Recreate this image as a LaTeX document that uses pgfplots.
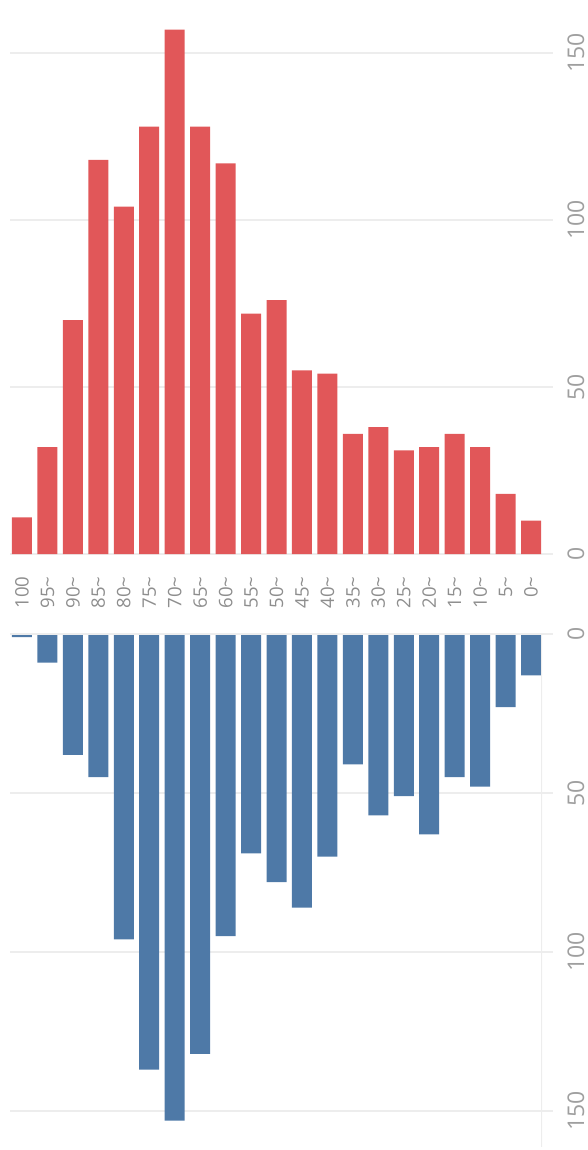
\documentclass[border=0pt]{standalone}
\usepackage{fontspec}
\setmainfont{Open Sans}
\usepackage{pgfplots}
\usepackage{pgfplotstable}
\pgfplotsset{compat=1.18}

\definecolor{redbar}{HTML}{E15759}
\definecolor{bluebar}{HTML}{4E79A7}
\definecolor{gridc}{HTML}{EDEDED}
\definecolor{labc}{HTML}{8E8E8E}

% x = age group index (100, 95~, ..., 0~)
\pgfplotstableread{
x  top  bottom
0  11   1
1  32   9
2  70   38
3  118  45
4  104  96
5  128  137
6  157  153
7  128  132
8  117  95
9  72   69
10 76   78
11 55   86
12 54   70
13 36   41
14 38   57
15 31   51
16 32   63
17 36   45
18 32   48
19 18   23
20 10   13
}\agedata

\pgfplotsset{
  halfstyle/.style={
    scale only axis,
    width=266pt,
    xmin=-0.47, xmax=20.43,
    axis line style={draw=none},
    ytick={0,50,100,150},
    ymajorgrids,
    grid style={gridc, line width=0.9pt},
    ytick pos=right,
    yticklabel pos=right,
    tick align=outside,
    major tick length=5.5pt,
    y tick style={gridc, line width=0.9pt},
    x tick style={draw=none},
    /pgf/number format/assume math mode=true,
    yticklabel style={rotate=90, anchor=north, inner sep=0pt, font=\fontsize{11.5}{12}\selectfont, text=labc!85},
    yticklabel shift=7pt,
    xtick={0,...,20},
    ybar, bar width=10pt,
  },
}

\begin{document}
\begin{tikzpicture}
\useasboundingbox (0,0) rectangle (294pt,-575pt);

\begin{axis}[halfstyle,
  at={(5pt,0pt)}, anchor=north west,
  height=277pt,
  ymin=0, ymax=165.9,
  xticklabels={100,95\textasciitilde,90\textasciitilde,85\textasciitilde,80\textasciitilde,75\textasciitilde,70\textasciitilde,65\textasciitilde,60\textasciitilde,55\textasciitilde,50\textasciitilde,45\textasciitilde,40\textasciitilde,35\textasciitilde,30\textasciitilde,25\textasciitilde,20\textasciitilde,15\textasciitilde,10\textasciitilde,5\textasciitilde,0\textasciitilde},
  xticklabel style={rotate=90, anchor=east, inner sep=0pt, font=\fontsize{9.3}{10}\selectfont, text=labc},
  xticklabel shift=5.5pt,
]
\addplot[fill=redbar, draw=none] table[x=x, y=top] {\agedata};
\end{axis}

\begin{axis}[halfstyle,
  at={(5pt,-317pt)}, anchor=north west,
  height=256.5pt,
  y dir=reverse,
  ymin=0, ymax=161.3,
  xticklabels={},
]
\addplot[fill=bluebar, draw=none] table[x=x, y=bottom] {\agedata};
\draw[gridc, line width=0.9pt] (rel axis cs:1,0) -- (rel axis cs:1,1) -- (rel axis cs:0,1);
\end{axis}
\end{tikzpicture}
\end{document}
